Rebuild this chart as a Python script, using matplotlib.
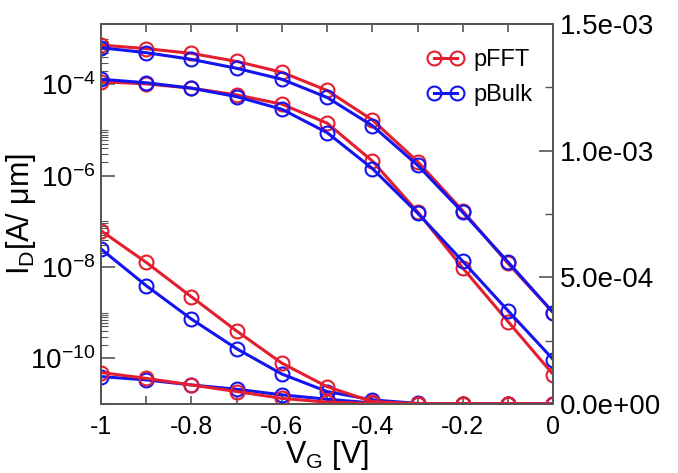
import numpy as np
import matplotlib
matplotlib.use("Agg")
import matplotlib.pyplot as plt
from matplotlib.ticker import FixedLocator, MultipleLocator, LogLocator, FuncFormatter, NullFormatter

plt.rcParams['font.family'] = ['Liberation Sans', 'DejaVu Sans']
plt.rcParams['mathtext.default'] = 'regular'

# gate voltage
vg = [-1.0, -0.9, -0.8, -0.7, -0.6, -0.5, -0.4, -0.3, -0.2, -0.1, 0.0]

# log scale (left axis), high drain bias
fft_log_hi = [7.3e-4, 6.1e-4, 4.8e-4, 3.2e-4, 1.85e-4, 7.4e-5, 1.67e-5, 2.05e-6, 1.7e-7, 1.2e-8, 1.0e-9]
bulk_log_hi = [6.4e-4, 4.97e-4, 3.55e-4, 2.26e-4, 1.3e-4, 5.2e-5, 1.25e-5, 1.7e-6, 1.57e-7, 1.29e-8, 1.0e-9]
# log scale (left axis), low drain bias
fft_log_lo = [1.15e-4, 1.03e-4, 8.3e-5, 5.9e-5, 3.7e-5, 1.42e-5, 2.1e-6, 1.62e-7, 9.5e-9, 6.4e-10, 4.4e-11]
bulk_log_lo = [1.3e-4, 1.09e-4, 8.3e-5, 5.4e-5, 2.86e-5, 8.8e-6, 1.44e-6, 1.52e-7, 1.33e-8, 1.1e-9, 9.4e-11]

# linear scale (right axis)
fft_lin_hi = [6.84e-4, 5.59e-4, 4.23e-4, 2.88e-4, 1.61e-4, 6.8e-5, 9e-6, 1e-6, 0, 0, 0]
bulk_lin_hi = [6.12e-4, 4.67e-4, 3.35e-4, 2.18e-4, 1.18e-4, 4.9e-5, 1.6e-5, 2e-6, 0, 0, 0]
fft_lin_lo = [1.24e-4, 1.01e-4, 7.5e-5, 4.9e-5, 2.2e-5, 7e-6, 2e-6, 0, 0, 0, 0]
bulk_lin_lo = [1.08e-4, 9.5e-5, 7.5e-5, 5.8e-5, 3.6e-5, 1.85e-5, 4e-6, 0, 0, 0, 0]

red = '#e41e2f'
blue = '#1414f0'
style = dict(marker='o', markersize=10, fillstyle='none', markeredgewidth=1.5, linewidth=2.2)

fig = plt.figure(figsize=(6.78, 4.73), dpi=100)
ax = fig.add_axes([0.149, 0.146, 0.667, 0.803])
ax2 = ax.twinx()

ax.plot(vg, fft_log_hi, color=red, label='pFFT', **style)
ax.plot(vg, fft_log_lo, color=red, **style)
ax.plot(vg, bulk_log_hi, color=blue, label='pBulk', **style)
ax.plot(vg, bulk_log_lo, color=blue, **style)

ax2.plot(vg, bulk_lin_hi, color=blue, **style)
ax2.plot(vg, bulk_lin_lo, color=blue, **style)
ax2.plot(vg, fft_lin_hi, color=red, **style)
ax2.plot(vg, fft_lin_lo, color=red, **style)

ax.set_yscale('log')
ax.set_xlim(-1, 0)
ax.set_ylim(1e-11, 2.1e-3)
ax2.set_ylim(0, 1.5e-3)

ax.xaxis.set_major_locator(MultipleLocator(0.2))
ax.xaxis.set_minor_locator(MultipleLocator(0.1))
ax.xaxis.set_major_formatter(FuncFormatter(lambda v, p: '0' if abs(v) < 1e-9 else ('%g' % v)))

ax.yaxis.set_major_locator(FixedLocator([1e-10, 1e-8, 1e-6, 1e-4]))
ax.yaxis.set_major_formatter(FuncFormatter(lambda v, p: r'$10^{%d}$' % round(np.log10(v))))
ax.yaxis.set_minor_locator(LogLocator(base=100, subs=[2, 3, 4, 5, 6, 7, 8, 9, 10], numticks=20))
ax.yaxis.set_minor_formatter(NullFormatter())

ax2.yaxis.set_major_locator(MultipleLocator(5e-4))
ax2.yaxis.set_minor_locator(MultipleLocator(2.5e-4))
ax2.yaxis.set_major_formatter(FuncFormatter(lambda v, p: '%.1e' % v))

spine_c = '#555555'
for a in (ax, ax2):
    for s in a.spines.values():
        s.set_color(spine_c)
        s.set_linewidth(1.3)

ax.tick_params(axis='x', which='both', direction='in', top=True, length=6, width=1.2,
               color=spine_c, labelsize=18, pad=8)
ax.tick_params(axis='y', which='major', direction='in', length=10, width=1.2,
               color=spine_c, labelsize=20, pad=4)
ax.tick_params(axis='y', which='minor', direction='in', length=5, width=0.8, color=spine_c)
ax2.tick_params(axis='y', which='major', direction='in', length=10, width=1.2,
                color=spine_c, labelsize=20, pad=5)
ax2.tick_params(axis='y', which='minor', direction='in', length=6, width=1.0, color=spine_c)

ax.set_xlabel(r'V$_{G}$ [V]', fontsize=22)
ax.xaxis.set_label_coords(0.5, -0.09)
ax.set_ylabel(r'I$_{D}$[A/ μm]', fontsize=22)
ax.yaxis.set_label_coords(-0.14, 0.5)

ax.legend(loc='upper left', bbox_to_anchor=(0.695, 0.965), frameon=False, fontsize=17,
          numpoints=2, handlelength=1.55, handletextpad=0.4, labelspacing=0.55, borderpad=0)

fig.savefig('out.png', dpi=100)
